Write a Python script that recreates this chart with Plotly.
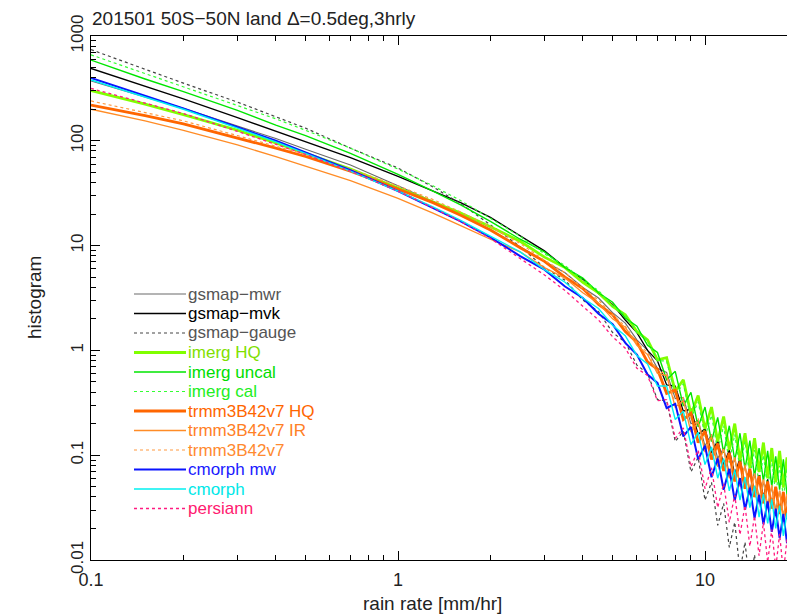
import plotly.graph_objects as go

# Rain-rate bins [mm/hr]
rain_rate = [0.1, 0.15, 0.2, 0.3, 0.4, 0.5, 0.7, 1.0, 1.3, 1.6, 2.0,
             2.5, 3.0, 3.5, 4.0, 4.5, 5.0, 5.5, 6.0, 6.5, 7.0, 7.5, 8.0,
             8.5, 9.0, 9.5, 10.0, 10.5, 11.0, 11.5, 12.0, 12.5, 13.0, 13.5,
             14.0, 14.5, 15.0, 15.5, 16.0, 16.5, 17.0, 17.5, 18.0, 18.5, 19.0]

# Histogram counts per product
gsmap_mwr = [372, 263, 204, 138, 105, 83.2, 58.9, 37.2, 26.3, 20.0, 14.1,
             9.77, 7.08, 5.50, 3.98, 3.16, 2.29, 1.82, 1.26, 1.00, 0.676,
             0.617, 0.347, 0.355, 0.200, 0.214, 0.123, 0.158, 0.0933, 0.117,
             0.0676, 0.0912, 0.0537, 0.0794, 0.0468, 0.0692, 0.0389, 0.0562,
             0.0324, 0.0501, 0.0295, 0.0457, 0.0263, 0.0389, 0.0224]
gsmap_mvk = [490, 331, 251, 166, 123, 97.7, 69.2, 45.7, 33.1, 25.7, 18.6,
             12.3, 8.91, 6.17, 4.79, 3.47, 2.75, 1.95, 1.48, 1.00, 0.794,
             0.468, 0.457, 0.263, 0.275, 0.158, 0.178, 0.105, 0.138, 0.0813,
             0.112, 0.0661, 0.0933, 0.0525, 0.0741, 0.0417, 0.0646, 0.0398,
             0.0589, 0.0331, 0.0479, 0.0282, 0.0427, 0.0245, 0.0380]
gsmap_gauge = [741, 479, 355, 234, 170, 132, 85.1, 55.0, 36.3, 25.1, 15.8,
               9.77, 6.17, 4.68, 3.02, 2.34, 1.48, 1.20, 0.724, 0.603, 0.339,
               0.331, 0.135, 0.170, 0.0692, 0.0955, 0.0372, 0.0550, 0.0214,
               0.0347, 0.0132, 0.0229, 0.00776, 0.0148, 0.00550, 0.0112,
               0.00501, None, None, None, None, None, None, None, None]
imerg_hq = [302, 224, 178, 126, 95.5, 75.9, 53.7, 35.5, 26.3, 20.4, 15.1,
            11.0, 7.76, 6.17, 4.47, 3.55, 2.63, 2.19, 1.51, 1.26, 0.813,
            0.851, 0.407, 0.525, 0.245, 0.372, 0.178, 0.288, 0.135, 0.234,
            0.112, 0.200, 0.0891, 0.162, 0.0759, 0.145, 0.0692, 0.132,
            0.0603, 0.117, 0.0550, 0.110, 0.0490, 0.0955, 0.0457]
imerg_uncal = [589, 389, 295, 195, 141, 112, 75.9, 47.9, 33.1, 24.5, 17.0,
               11.5, 8.71, 6.17, 4.90, 3.55, 2.88, 2.04, 1.70, 1.12, 0.955,
               0.525, 0.631, 0.295, 0.398, 0.186, 0.288, 0.135, 0.229, 0.105,
               0.191, 0.0891, 0.162, 0.0741, 0.138, 0.0631, 0.117, 0.0562,
               0.110, 0.0501, 0.0977, 0.0468, 0.0912, 0.0417, 0.0813]
imerg_cal = [661, 437, 331, 219, 162, 126, 85.1, 53.7, 37.2, 26.9, 18.2,
             12.3, 8.32, 6.46, 4.68, 3.72, 2.63, 2.19, 1.48, 1.26, 0.794,
             0.794, 0.372, 0.479, 0.224, 0.324, 0.151, 0.240, 0.110, 0.191,
             0.0851, 0.158, 0.0741, 0.135, 0.0617, 0.112, 0.0525, 0.100,
             0.0479, 0.0912, 0.0417, 0.0794, 0.0389, 0.0759, 0.0355]
trmm_hq = [219, 174, 145, 107, 85.1, 70.8, 51.3, 34.7, 25.7, 19.5, 14.1,
           9.55, 7.08, 5.01, 3.89, 2.75, 2.19, 1.51, 1.20, 0.776, 0.661,
           0.389, 0.417, 0.219, 0.251, 0.132, 0.170, 0.0912, 0.129, 0.0708,
           0.105, 0.0562, 0.0871, 0.0479, 0.0741, 0.0398, 0.0631, 0.0347,
           0.0562, 0.0309, 0.0501, 0.0275, 0.0447, 0.0251, 0.0417]
trmm_ir = [200, 155, 126, 91.2, 70.8, 57.5, 41.7, 28.2, 20.4, 15.5, 11.5,
           8.71, 6.17, 4.90, 3.55, 2.82, 2.00, 1.66, 1.12, 0.912, 0.603,
           0.575, 0.288, 0.331, 0.166, 0.209, 0.107, 0.151, 0.0776, 0.115,
           0.0603, 0.0955, 0.0513, 0.0794, 0.0417, 0.0661, 0.0363, 0.0589,
           0.0324, 0.0513, 0.0282, 0.0457, 0.0257, 0.0427, 0.0240]
trmm_3b42 = [240, 186, 155, 112, 89.1, 74.1, 53.7, 37.2, 27.5, 20.9, 15.1,
             10.5, 7.24, 5.50, 3.89, 3.02, 2.19, 1.70, 1.18, 0.955, 0.631,
             0.603, 0.302, 0.355, 0.174, 0.224, 0.112, 0.158, 0.0794, 0.117,
             0.0603, 0.0955, 0.0501, 0.0813, 0.0417, 0.0676, 0.0355, 0.0589,
             0.0316, 0.0525, 0.0275, 0.0457, 0.0245, 0.0417, 0.0229]
cmorph_mw = [398, 269, 204, 135, 100, 77.6, 52.5, 33.1, 22.9, 17.0, 12.0,
             7.94, 5.89, 4.07, 3.16, 2.24, 1.78, 1.18, 0.912, 0.589, 0.490,
             0.282, 0.309, 0.151, 0.186, 0.0912, 0.123, 0.0617, 0.0933,
             0.0468, 0.0741, 0.0372, 0.0603, 0.0302, 0.0490, 0.0251, 0.0417,
             0.0219, 0.0363, 0.0186, 0.0309, 0.0162, 0.0275, 0.0145, 0.0240]
cmorph = [380, 263, 200, 132, 97.7, 75.9, 51.3, 33.1, 23.4, 17.4, 12.3,
          8.71, 5.89, 4.47, 3.16, 2.51, 1.74, 1.38, 0.891, 0.741, 0.457,
          0.457, 0.219, 0.263, 0.126, 0.166, 0.0813, 0.120, 0.0603, 0.0933,
          0.0457, 0.0724, 0.0372, 0.0617, 0.0316, 0.0513, 0.0257, 0.0427,
          0.0224, 0.0380, 0.0200, 0.0331, 0.0170, 0.0282, 0.0148]
persiann = [316, 229, 182, 123, 93.3, 74.1, 51.3, 33.1, 22.9, 17.0, 11.7,
            7.59, 5.25, 3.72, 2.63, 1.95, 1.35, 1.05, 0.676, 0.575, 0.331,
            0.339, 0.145, 0.182, 0.0776, 0.112, 0.0479, 0.0759, 0.0316,
            0.0537, 0.0229, 0.0417, 0.0174, 0.0331, 0.0135, 0.0263, 0.0110,
            0.0229, 0.00955, 0.0195, 0.00832, 0.0178, 0.00759, 0.0158, 0.00708]

product_names = ["gsmap\u2212mwr", "gsmap\u2212mvk", "gsmap\u2212gauge",
                 "imerg HQ", "imerg uncal", "imerg cal",
                 "trmm3B42v7 HQ", "trmm3B42v7 IR", "trmm3B42v7",
                 "cmorph mw", "cmorph", "persiann"]
product_values = [gsmap_mwr, gsmap_mvk, gsmap_gauge,
                  imerg_hq, imerg_uncal, imerg_cal,
                  trmm_hq, trmm_ir, trmm_3b42,
                  cmorph_mw, cmorph, persiann]

# styling for each product: line colour, text colour, width, dash
line_colors = ["#6a6a6a", "#000000", "#444444",
               "#80ff00", "#00e600", "#33ff33",
               "#ff6600", "#ff8c26", "#ff9940",
               "#0a14ff", "#00f0f0", "#ff1a80"]
text_colors = ["#555555", "#000000", "#555555",
               "#80e000", "#00dd00", "#22ee22",
               "#ff6600", "#ff8026", "#ff8a30",
               "#1a1aff", "#00e8e8", "#ff1a70"]
line_widths = [1.1, 1.3, 1.2, 2.8, 1.4, 1.2, 2.8, 1.3, 1.2, 2.0, 1.4, 1.3]
line_dashes = ["solid", "solid", "dot", "solid", "solid", "dot",
               "solid", "solid", "dot", "solid", "solid", "dot"]

W, H = 787, 616
ML, MR, MT, MB = 91, 0, 36, 56
PW, PH = W - ML - MR, H - MT - MB
FONT = "Liberation Sans, Arial, Helvetica, sans-serif"


def fx(px):
    """pixel column -> paper x"""
    return (px - ML) / PW


def fy(py):
    """pixel row -> paper y"""
    return (H - MB - py) / PH


fig = go.Figure()
for name, vals, col, wd, ds in zip(product_names, product_values,
                                   line_colors, line_widths, line_dashes):
    fig.add_trace(go.Scatter(
        x=rain_rate, y=vals, mode="lines", name=name, showlegend=False,
        connectgaps=False,
        line=dict(color=col, width=wd, dash=ds)))

# key drawn inside the plotting area
for k, (name, col, tcol, wd, ds) in enumerate(zip(
        product_names, line_colors, text_colors, line_widths, line_dashes)):
    yk = 294 + 19.5 * k
    fig.add_shape(type="line", xref="paper", yref="paper",
                  x0=fx(134), x1=fx(186), y0=fy(yk), y1=fy(yk),
                  line=dict(color=col, width=wd, dash=ds))
    fig.add_annotation(xref="paper", yref="paper", x=fx(186), y=fy(yk),
                       text=name, showarrow=False, xanchor="left",
                       yanchor="middle",
                       font=dict(family=FONT, size=17, color=tcol))

minor_x = [m * d for d in (0.1, 1, 10) for m in range(2, 10)]
minor_y = [m * d for d in (0.01, 0.1, 1, 10, 100) for m in range(2, 10)]

fig.update_xaxes(
    type="log", range=[-1, 1.2671], showgrid=False, zeroline=False,
    showline=True, linecolor="black", linewidth=1.3, mirror="ticks",
    ticks="inside", ticklen=9, tickwidth=1, tickcolor="black",
    tickvals=[0.1, 1, 10], ticktext=["0.1", "1", "10"],
    tickfont=dict(family=FONT, size=18, color="#222222"),
    ticklabelstandoff=3,
    minor=dict(tickvals=minor_x, ticks="inside", ticklen=5,
               tickcolor="black", showgrid=False))
fig.update_yaxes(
    type="log", range=[-2, 3], showgrid=False, zeroline=False,
    showline=True, linecolor="black", linewidth=1.3,
    ticks="inside", ticklen=9, tickwidth=1, tickcolor="black",
    tickvals=[0.01, 0.1, 1, 10, 100, 1000],
    ticktext=["0.01", "0.1", "1", "10", "100", "1000"],
    tickangle=-90, tickfont=dict(family=FONT, size=17, color="#222222"),
    minor=dict(tickvals=minor_y, ticks="inside", ticklen=5,
               tickcolor="black", showgrid=False))

fig.add_annotation(xref="paper", yref="paper", x=fx(90), y=fy(18),
                   text="201501 50S\u221250N land \u0394=0.5deg,3hrly",
                   showarrow=False, xanchor="left", yanchor="middle",
                   font=dict(family=FONT, size=19, color="#222222"))
fig.add_annotation(xref="paper", yref="paper", x=fx(432), y=fy(603),
                   text="rain rate [mm/hr]", showarrow=False,
                   xanchor="center", yanchor="middle",
                   font=dict(family=FONT, size=19, color="#222222"))
fig.add_annotation(xref="paper", yref="paper", x=fx(34), y=fy(298),
                   text="histogram", textangle=-90, showarrow=False,
                   xanchor="center", yanchor="middle",
                   font=dict(family=FONT, size=19, color="#222222"))

fig.update_layout(
    width=W, height=H, margin=dict(l=ML, r=MR, t=MT, b=MB),
    plot_bgcolor="white", paper_bgcolor="white", showlegend=False,
    font=dict(family=FONT))

fig.write_html("out.html")
